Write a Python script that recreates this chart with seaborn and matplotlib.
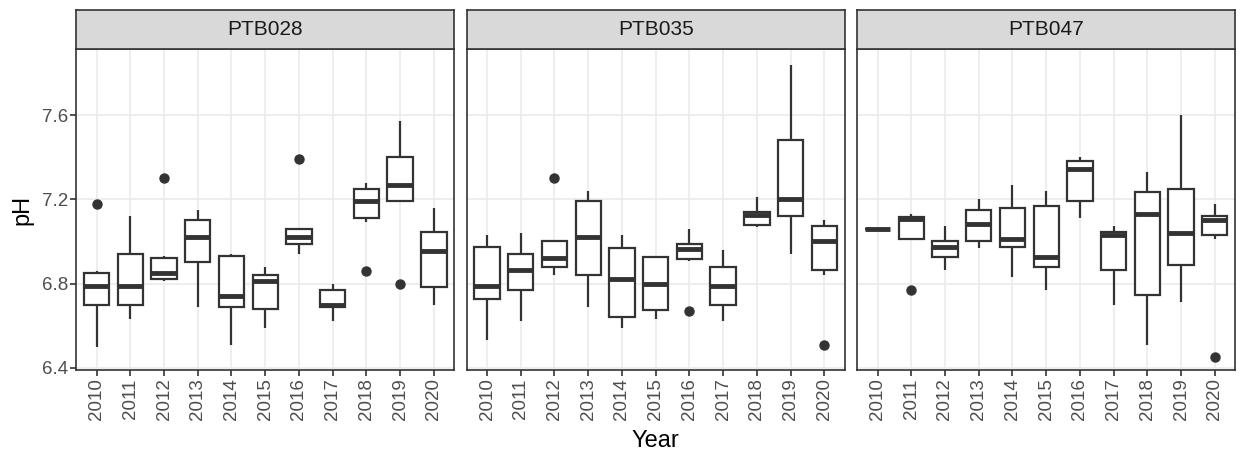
import pandas as pd
import matplotlib.pyplot as plt
import seaborn as sns

# Dados (pH por ano e por ponto)
years = ['2010', '2011', '2012', '2013', '2014', '2015',
         '2016', '2017', '2018', '2019', '2020']
sites = ['PTB028', 'PTB035', 'PTB047']

# estatísticas das caixas: bigode inferior, Q1, mediana, Q3, bigode superior
ptb028_lo = [6.50, 6.63, 6.81, 6.69, 6.51, 6.59, 6.94, 6.62, 7.09, 7.19, 6.70]
ptb028_q1 = [6.70, 6.70, 6.82, 6.90, 6.69, 6.68, 6.99, 6.69, 7.11, 7.19, 6.785]
ptb028_md = [6.79, 6.79, 6.85, 7.02, 6.74, 6.81, 7.02, 6.70, 7.19, 7.27, 6.955]
ptb028_q3 = [6.85, 6.94, 6.92, 7.10, 6.93, 6.84, 7.06, 6.77, 7.25, 7.40, 7.045]
ptb028_hi = [6.86, 7.12, 6.93, 7.15, 6.94, 6.88, 7.06, 6.80, 7.28, 7.57, 7.16]
ptb028_out = [7.18, None, 7.30, None, None, None, 7.39, None, 6.86, 6.80, None]

ptb035_lo = [6.53, 6.62, 6.84, 6.69, 6.59, 6.63, 6.905, 6.62, 7.07, 6.94, 6.84]
ptb035_q1 = [6.725, 6.77, 6.88, 6.84, 6.64, 6.675, 6.915, 6.70, 7.08, 7.12, 6.865]
ptb035_md = [6.79, 6.865, 6.92, 7.02, 6.82, 6.80, 6.965, 6.79, 7.125, 7.20, 7.00]
ptb035_q3 = [6.975, 6.94, 7.00, 7.19, 6.97, 6.925, 6.99, 6.88, 7.14, 7.48, 7.075]
ptb035_hi = [7.03, 7.04, 7.00, 7.24, 7.03, 6.925, 7.06, 6.96, 7.21, 7.84, 7.10]
ptb035_out = [None, None, 7.30, None, None, None, 6.67, None, None, None, 6.51]

ptb047_lo = [7.06, 7.01, 6.865, 6.97, 6.83, 6.77, 7.11, 6.70, 6.51, 6.71, 7.01]
ptb047_q1 = [7.06, 7.01, 6.925, 7.00, 6.975, 6.88, 7.19, 6.865, 6.745, 6.89, 7.03]
ptb047_md = [7.06, 7.105, 6.975, 7.085, 7.01, 6.925, 7.345, 7.03, 7.13, 7.04, 7.10]
ptb047_q3 = [7.06, 7.115, 7.00, 7.15, 7.16, 7.17, 7.38, 7.045, 7.235, 7.25, 7.12]
ptb047_hi = [7.06, 7.13, 7.075, 7.20, 7.27, 7.24, 7.40, 7.075, 7.33, 7.60, 7.18]
ptb047_out = [None, 6.77, None, None, None, None, None, None, None, None, 6.45]

stats = {
    'PTB028': (ptb028_lo, ptb028_q1, ptb028_md, ptb028_q3, ptb028_hi, ptb028_out),
    'PTB035': (ptb035_lo, ptb035_q1, ptb035_md, ptb035_q3, ptb035_hi, ptb035_out),
    'PTB047': (ptb047_lo, ptb047_q1, ptb047_md, ptb047_q3, ptb047_hi, ptb047_out),
}

# monta observações (9 por caixa) que reproduzem quartis, bigodes e outliers
rows = []
for site in sites:
    lo, q1, md, q3, hi, out = stats[site]
    for i, yr in enumerate(years):
        vals = [lo[i], lo[i], q1[i], q1[i], md[i], q3[i], q3[i], hi[i], hi[i]]
        if out[i] is not None:
            if out[i] < lo[i]:
                vals[0] = out[i]
            else:
                vals[-1] = out[i]
        rows += [(site, yr, v) for v in vals]
df = pd.DataFrame(rows, columns=['Site', 'Year', 'pH'])

sns.set_theme(style="white")
plt.rcParams['font.family'] = ['Liberation Sans', 'DejaVu Sans']

fig, axes = plt.subplots(1, 3, figsize=(12.43, 4.55), dpi=100, sharey=True)
fig.subplots_adjust(left=0.0614, right=0.9936, bottom=0.1868, top=0.8916, wspace=0.0336)

for k, (ax, site) in enumerate(zip(axes, sites)):
    sub = df[df['Site'] == site]
    sns.boxplot(
        data=sub, x='Year', y='pH', order=years, ax=ax,
        color='white', linecolor='#333333', linewidth=1.6, width=0.75,
        whis=1.5, showcaps=False,
        flierprops=dict(marker='o', markersize=6.5, markerfacecolor='#333333',
                        markeredgecolor='#333333'),
        medianprops=dict(linewidth=3.5),
    )
    ax.set_facecolor('white')
    ax.grid(True, color='#EBEBEB', linewidth=1.2)
    ax.set_axisbelow(True)
    ax.set_xlim(-0.6, 10.6)
    ax.set_ylim(6.389, 7.913)
    ax.set_yticks([6.4, 6.8, 7.2, 7.6])
    ax.set_xlabel('')
    ax.set_ylabel('')
    for sp in ax.spines.values():
        sp.set_visible(True)
        sp.set_color('#333333')
        sp.set_linewidth(1.2)
    ax.tick_params(axis='x', rotation=90, labelsize=13.5, labelcolor='#4D4D4D',
                   color='#333333', length=4, width=1.2, bottom=True, pad=2)
    ax.tick_params(axis='y', labelsize=13.5, labelcolor='#4D4D4D',
                   color='#333333', length=4 if k == 0 else 0, width=1.2,
                   left=True, pad=2)

    # faixa do título do painel (estilo facet_wrap)
    pos = ax.get_position()
    sax = fig.add_axes([pos.x0, pos.y1, pos.width, 0.0864])
    sax.set_facecolor('#D9D9D9')
    sax.set_xticks([])
    sax.set_yticks([])
    for sp in sax.spines.values():
        sp.set_color('#333333')
        sp.set_linewidth(1.2)
    sax.text(0.5, 0.5, site, ha='center', va='center', fontsize=15,
             color='#1A1A1A', transform=sax.transAxes)

fig.text(0.5275, 1 - 441 / 455, 'Year', ha='center', va='center', fontsize=17, color='black')
fig.text(22 / 1243, 1 - 210 / 455, 'pH', ha='center', va='center', rotation=90,
         fontsize=17, color='black')

plt.savefig('out.png', dpi=100)
